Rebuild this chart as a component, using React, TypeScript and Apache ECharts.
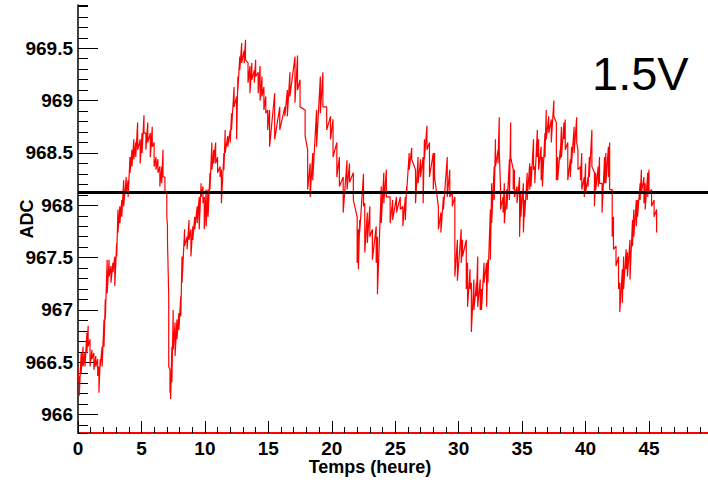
import React, { useEffect, useRef } from "react";
import * as echarts from "echarts";

// [hour, highest ADC reading, lowest ADC reading]
const adcSamples: [number, number, number][] = [
  [0.0, 966.46, 966.31], [0.1, 966.37, 966.18], [0.25, 966.59, 966.4], [0.4, 966.65, 966.46],
  [0.55, 966.59, 966.46], [0.7, 966.78, 966.59], [0.8, 966.85, 966.65], [0.95, 966.72, 966.46],
  [1.1, 966.62, 966.53], [1.25, 966.59, 966.43], [1.4, 966.56, 966.46], [1.55, 966.53, 966.37],
  [1.65, 966.46, 966.21], [1.75, 966.53, 966.46], [1.9, 966.65, 966.46], [2.05, 966.91, 966.65],
  [2.15, 967.1, 966.91], [2.3, 967.48, 967.16], [2.45, 967.48, 967.32], [2.6, 967.42, 967.26],
  [2.75, 967.45, 967.36], [2.9, 967.51, 967.23], [3.05, 967.64, 967.51], [3.15, 967.96, 967.74],
  [3.3, 967.99, 967.83], [3.45, 968.05, 967.89], [3.6, 968.24, 967.99], [3.8, 968.27, 968.12],
  [3.95, 968.24, 968.08], [4.1, 968.46, 968.31], [4.25, 968.53, 968.37], [4.4, 968.63, 968.44],
  [4.55, 968.6, 968.46], [4.7, 968.79, 968.53], [4.9, 968.63, 968.4], [5.05, 968.69, 968.5],
  [5.2, 968.86, 968.69], [5.35, 968.69, 968.53], [5.5, 968.79, 968.6], [5.7, 968.69, 968.46],
  [5.85, 968.75, 968.56], [6.0, 968.6, 968.37], [6.15, 968.46, 968.34], [6.3, 968.44, 968.31],
  [6.45, 968.37, 968.18], [6.6, 968.37, 968.21], [6.7, 968.53, 968.27], [6.85, 968.27, 968.12],
  [7.0, 968.12, 967.89], [7.05, 967.8, 967.67], [7.15, 967.13, 966.46], [7.25, 966.43, 966.21],
  [7.3, 966.34, 966.15], [7.4, 966.65, 966.31], [7.5, 967.0, 966.62], [7.65, 966.88, 966.56],
  [7.8, 966.91, 966.72], [7.95, 966.97, 966.81], [8.1, 967.13, 966.94], [8.2, 967.51, 967.26],
  [8.4, 967.77, 967.61], [8.6, 967.7, 967.58], [8.75, 967.86, 967.67], [8.9, 967.77, 967.51],
  [9.05, 967.8, 967.67], [9.2, 967.89, 967.77], [9.4, 967.99, 967.83], [9.55, 968.08, 967.77],
  [9.7, 968.21, 968.08], [9.85, 968.18, 968.02], [9.95, 968.08, 967.77], [10.1, 968.15, 967.8],
  [10.25, 968.15, 967.89], [10.4, 968.31, 968.15], [10.55, 968.6, 968.34], [10.7, 968.53, 968.4],
  [10.85, 968.6, 968.4], [11.0, 968.46, 968.31], [11.2, 968.37, 968.27], [11.3, 968.34, 968.02],
  [11.5, 968.5, 968.34], [11.6, 968.72, 968.5], [11.8, 968.66, 968.56], [12.0, 968.72, 968.6],
  [12.1, 968.88, 968.72], [12.3, 969.13, 968.94], [12.5, 969.04, 968.63], [12.6, 969.23, 969.1],
  [12.75, 969.42, 969.29], [12.9, 969.55, 969.36], [13.1, 969.48, 969.36], [13.2, 969.58, 969.39],
  [13.4, 969.36, 969.17], [13.55, 969.33, 969.07], [13.7, 969.36, 969.2], [13.9, 969.29, 969.17],
  [14.0, 969.39, 969.23], [14.2, 969.27, 969.07], [14.35, 969.33, 969.0], [14.5, 969.23, 969.04],
  [14.65, 969.13, 968.91], [14.8, 969.04, 968.88], [14.95, 968.91, 968.72], [15.1, 968.91, 968.56],
  [15.5, 969.07, 968.63], [15.9, 968.94, 968.72], [16.3, 968.94, 968.85], [16.5, 969.1, 968.85],
  [16.7, 969.27, 969.04], [17.1, 969.42, 968.98], [17.3, 969.43, 969.1], [17.5, 969.2, 968.94],
  [17.9, 968.91, 968.66], [18.1, 968.53, 968.15], [18.3, 968.4, 968.08], [18.5, 968.5, 968.24],
  [18.8, 968.91, 968.56], [19.1, 969.23, 968.88], [19.3, 969.27, 968.94], [19.6, 968.94, 968.72],
  [19.9, 968.85, 968.63], [20.1, 968.82, 968.46], [20.4, 968.6, 968.27], [20.6, 968.46, 968.18],
  [20.9, 968.27, 967.93], [21.2, 968.43, 968.15], [21.4, 968.4, 968.22], [21.7, 968.31, 968.05],
  [22.0, 967.89, 967.45], [22.1, 967.77, 967.39], [22.2, 967.86, 967.74], [22.5, 968.3, 967.99],
  [22.6, 968.02, 967.55], [22.8, 967.93, 967.64], [23.0, 967.99, 967.7], [23.2, 967.77, 967.48],
  [23.5, 967.8, 967.45], [23.6, 967.7, 967.15], [23.9, 968.18, 967.83], [24.1, 968.31, 968.02],
  [24.3, 968.34, 968.08], [24.6, 968.08, 967.83], [24.8, 968.05, 967.86], [25.1, 968.08, 967.93],
  [25.4, 968.08, 967.96], [25.6, 967.99, 967.8], [25.8, 968.08, 967.86], [25.9, 968.18, 968.12],
  [26.1, 968.5, 968.34], [26.3, 968.55, 968.44], [26.6, 968.34, 968.02], [26.8, 968.46, 968.21],
  [27.0, 968.44, 968.27], [27.2, 968.46, 968.02], [27.3, 968.63, 968.44], [27.5, 968.76, 968.53],
  [27.7, 968.6, 968.27], [28.0, 968.5, 968.15], [28.1, 968.5, 968.27], [28.4, 967.99, 967.77],
  [28.6, 967.93, 967.74], [28.8, 968.08, 967.96], [29.1, 968.46, 968.08], [29.3, 968.34, 968.08],
  [29.5, 968.12, 967.99], [29.7, 968.08, 967.32], [29.9, 967.67, 967.28], [30.2, 967.77, 967.45],
  [30.3, 967.67, 967.51], [30.6, 967.67, 967.2], [30.7, 967.45, 967.03], [30.9, 967.39, 967.2],
  [31.0, 967.26, 966.79], [31.2, 967.29, 967.0], [31.4, 967.26, 967.13], [31.5, 967.51, 967.03],
  [31.7, 967.29, 967.0], [31.8, 967.2, 967.0], [32.0, 967.45, 967.26], [32.2, 967.45, 967.03],
  [32.3, 967.48, 967.26], [32.5, 967.96, 967.48], [32.6, 968.21, 967.83], [32.8, 968.37, 968.05],
  [32.9, 968.63, 968.37], [33.1, 968.53, 968.4], [33.2, 968.84, 968.53], [33.3, 968.15, 967.96],
  [33.5, 968.08, 967.93], [33.6, 968.21, 967.83], [33.8, 968.15, 967.96], [34.0, 968.44, 968.05],
  [34.1, 968.79, 968.46], [34.3, 968.34, 968.15], [34.4, 968.34, 968.08], [34.6, 968.18, 968.02],
  [34.8, 968.27, 967.7], [34.9, 968.12, 967.89], [35.1, 968.21, 967.74], [35.2, 968.05, 967.89],
  [35.4, 968.31, 968.05], [35.6, 968.4, 968.15], [35.7, 968.37, 968.18], [35.9, 968.63, 968.34],
  [36.0, 968.37, 968.21], [36.2, 968.72, 968.46], [36.3, 968.63, 968.34], [36.5, 968.56, 968.24],
  [36.6, 968.46, 968.18], [36.8, 968.69, 968.46], [36.9, 968.91, 968.63], [37.1, 968.85, 968.69],
  [37.3, 968.82, 968.6], [37.5, 969.0, 968.85], [37.7, 968.79, 968.24], [37.8, 968.46, 968.24],
  [38.0, 968.53, 968.44], [38.1, 968.75, 968.46], [38.3, 968.79, 968.63], [38.4, 968.82, 968.53],
  [38.6, 968.6, 968.24], [38.8, 968.44, 968.27], [38.9, 968.56, 968.4], [39.1, 968.75, 968.5],
  [39.3, 968.84, 968.6], [39.4, 968.53, 968.34], [39.6, 968.37, 968.24], [39.7, 968.5, 968.15],
  [39.9, 968.27, 968.08], [40.0, 968.4, 968.12], [40.2, 968.27, 968.18], [40.3, 968.46, 968.27],
  [40.5, 968.72, 968.37], [40.7, 968.31, 967.99], [40.8, 968.31, 968.15], [41.0, 968.37, 968.18],
  [41.1, 968.46, 968.21], [41.3, 968.21, 967.93], [41.5, 968.46, 968.21], [41.6, 968.5, 968.21],
  [41.8, 968.56, 968.27], [41.9, 968.6, 968.15], [42.1, 968.15, 967.7], [42.2, 967.89, 967.58],
  [42.4, 967.61, 967.42], [42.6, 967.51, 967.2], [42.7, 967.26, 966.98], [42.9, 967.39, 967.07],
  [43.0, 967.51, 967.2], [43.2, 967.58, 967.39], [43.3, 967.55, 967.32], [43.5, 967.67, 967.29],
  [43.7, 967.86, 967.61], [43.8, 967.96, 967.7], [44.0, 968.05, 967.8], [44.1, 968.05, 967.89],
  [44.3, 968.21, 968.05], [44.4, 968.34, 968.12], [44.6, 968.27, 968.02], [44.7, 968.21, 967.96],
  [44.9, 968.31, 968.08], [45.0, 968.34, 968.12], [45.2, 968.15, 967.99], [45.4, 968.05, 967.89],
  [45.6, 967.96, 967.74],
];

const meanAdc = 968.12;
const xRange = [0, 49.65];
const yRange = [965.825, 969.913];
const xTitle = "Temps (heure)";
const yTitle = "ADC";
const voltageLabel = "1.5V";

const labelFont = {
  color: "#000000",
  fontFamily: "Liberation Sans, Arial, Helvetica, sans-serif",
  fontWeight: "bold" as const,
  fontSize: 19,
};

export default function App() {
  const ref = useRef<HTMLDivElement>(null);

  useEffect(() => {
    if (!ref.current) return;
    const chart = echarts.init(ref.current, undefined, { renderer: "svg" });

    const lineData: [number, number][] = [];
    adcSamples.forEach(([h, hi, lo]) => {
      lineData.push([h, hi]);
      lineData.push([h, lo]);
    });

    const option: any = {
      animation: false,
      backgroundColor: "#ffffff",
      grid: { left: 78, right: 0, top: 5, bottom: 53, containLabel: false, outerBoundsMode: "none" },
      xAxis: [
        {
          type: "value",
          position: "bottom",
          min: xRange[0],
          max: xRange[1],
          interval: 5,
          axisLine: { show: true, onZero: false, lineStyle: { color: "#ff0000", width: 2 } },
          axisTick: { show: true, inside: true, length: 12, lineStyle: { color: "#000000", width: 1 } },
          axisLabel: { ...labelFont, margin: 6, showMaxLabel: false, showMinLabel: true },
          splitLine: { show: false },
          name: xTitle,
          nameLocation: "middle",
          nameGap: 25,
          nameMoveOverlap: false,
          nameTextStyle: { ...labelFont, fontSize: 18, padding: [0, 46, 0, 0] },
        },
        {
          type: "value",
          position: "bottom",
          min: xRange[0],
          max: xRange[1],
          interval: 1,
          axisLine: { show: false },
          axisTick: { show: true, inside: true, length: 6, lineStyle: { color: "#000000", width: 1 } },
          axisLabel: { show: false },
          splitLine: { show: false },
        },
      ],
      yAxis: [
        {
          type: "value",
          position: "left",
          min: yRange[0],
          max: yRange[1],
          splitNumber: 8,
          axisLine: { show: true, onZero: false, lineStyle: { color: "#000000", width: 1.5 } },
          axisTick: { show: true, inside: true, length: 20, lineStyle: { color: "#000000", width: 1 } },
          axisLabel: { ...labelFont, margin: 5, showMinLabel: false, showMaxLabel: false },
          splitLine: { show: false },
          name: yTitle,
          nameLocation: "middle",
          nameGap: 42,
          nameMoveOverlap: false,
          nameTextStyle: { ...labelFont, fontSize: 18 },
        },
        {
          type: "value",
          position: "left",
          min: yRange[0],
          max: yRange[1],
          splitNumber: 40,
          axisLine: { show: false },
          axisTick: { show: true, inside: true, length: 10, lineStyle: { color: "#000000", width: 1 } },
          axisLabel: { show: false },
          splitLine: { show: false },
        },
      ],
      series: [
        {
          type: "line",
          xAxisIndex: 0,
          yAxisIndex: 0,
          data: lineData,
          symbol: "none",
          showSymbol: false,
          lineStyle: { color: "#ff0000", width: 1.2 },
          markLine: {
            silent: true,
            symbol: ["none", "none"],
            label: { show: false },
            lineStyle: { color: "#000000", width: 3, type: "solid" },
            data: [{ yAxis: meanAdc }],
          },
        },
      ],
      graphic: [
        {
          type: "text",
          left: 592,
          top: 50,
          style: {
            text: voltageLabel,
            fill: "#000000",
            fontFamily: "Liberation Sans, Arial, Helvetica, sans-serif",
            fontSize: 47,
          },
        },
      ],
    };

    chart.setOption(option);
    return () => chart.dispose();
  }, []);

  return (
    <div
      ref={ref}
      style={{ position: "fixed", left: 0, top: 0, width: 708, height: 486, background: "#fff" }}
    />
  );
}
